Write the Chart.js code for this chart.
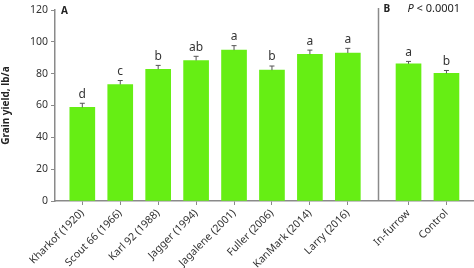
<!DOCTYPE html>
<html>
<head>
<meta charset="utf-8">
<script src="https://cdn.jsdelivr.net/npm/chart.js@4.4.0/dist/chart.umd.min.js"></script>
<style>
    html, body { margin: 0; padding: 0; background: #fff; }
    #wrap { position: relative; width: 474px; height: 268px; }
</style>
</head>
<body>
<div id="wrap"><canvas id="yieldChart" width="474" height="268"></canvas></div>
<script>
// Panel A: cultivars
const cultivars = ["Kharkof (1920)", "Scout 66 (1966)", "Karl 92 (1988)", "Jagger (1994)",
    "Jagalene (2001)", "Fuller (2006)", "KanMark (2014)", "Larry (2016)"];
const cultivarYield = [58.8, 73.2, 82.8, 88.3, 94.8, 82.2, 92.2, 93.0];
const cultivarErr = [2.6, 2.5, 2.4, 2.6, 2.8, 2.6, 2.6, 2.9];
const cultivarLetters = ["d", "c", "b", "ab", "a", "b", "a", "a"];

// Panel B: treatment
const treatments = ["In-furrow", "Control"];
const treatmentYield = [86.2, 80.2];
const treatmentErr = [1.5, 1.8];
const treatmentLetters = ["a", "b"];

const yTicks = [0, 20, 40, 60, 80, 100, 120];

const GREEN = "#66ee14";
const AXIS = "#8a8a8a";
const TEXT = "#333";
const FONT = "'Noto Sans', 'DejaVu Sans', sans-serif";

// layout of the two panels on one x scale (in category units)
const panelBStart = 8.6;
const dividerAt = 7.8;

const labelAt = {};
cultivars.forEach((c, i) => (labelAt[i] = c));
treatments.forEach((t, j) => (labelAt[panelBStart + j] = t));

const points = [
    ...cultivars.map((c, i) => ({ x: i, y: cultivarYield[i], err: cultivarErr[i], letter: cultivarLetters[i] })),
    ...treatments.map((t, j) => ({ x: panelBStart + j, y: treatmentYield[j], err: treatmentErr[j], letter: treatmentLetters[j] })),
];

// error bars, significance letters, panel tags and divider
const annotations = {
    id: "annotations",
    afterDatasetsDraw(chart) {
        const { ctx, scales, chartArea } = chart;
        const meta = chart.getDatasetMeta(0);
        ctx.save();
        meta.data.forEach((bar, i) => {
            const p = points[i];
            const top = scales.y.getPixelForValue(p.y + p.err);
            ctx.strokeStyle = "#555";
            ctx.lineWidth = 1;
            ctx.beginPath();
            ctx.moveTo(bar.x, bar.y);
            ctx.lineTo(bar.x, top);
            ctx.moveTo(bar.x - 2.5, top);
            ctx.lineTo(bar.x + 2.5, top);
            ctx.stroke();

            ctx.fillStyle = TEXT;
            ctx.font = "12px " + FONT;
            ctx.textAlign = "center";
            ctx.textBaseline = "bottom";
            ctx.fillText(p.letter, bar.x, top - 3);
        });

        // divider between panels
        const dx = Math.round(scales.x.getPixelForValue(dividerAt)) + 0.5;
        ctx.strokeStyle = AXIS;
        ctx.lineWidth = 1.5;
        ctx.beginPath();
        ctx.moveTo(dx, chartArea.top - 2);
        ctx.lineTo(dx, chartArea.bottom);
        ctx.stroke();

        ctx.fillStyle = "#222";
        ctx.textAlign = "left";
        ctx.textBaseline = "middle";
        ctx.font = "bold 10px " + FONT;
        ctx.fillText("A", chartArea.left + 6, chartArea.top + 1);
        ctx.fillText("B", dx + 5, chartArea.top - 1);

        ctx.font = "italic 11px " + FONT;
        ctx.fillText("P", dx + 29, chartArea.top - 1);
        const pw = ctx.measureText("P").width;
        ctx.font = "11px " + FONT;
        ctx.fillText(" < 0.0001", dx + 29 + pw, chartArea.top - 1);
        ctx.restore();
    },
};

new Chart(document.getElementById("yieldChart"), {
    type: "bar",
    data: {
        datasets: [
            {
                data: points,
                backgroundColor: GREEN,
                borderWidth: 0,
                barThickness: 25,
            },
        ],
    },
    options: {
        responsive: false,
        animation: false,
        layout: { padding: { top: 10, right: 1, left: 0, bottom: 0 } },
        plugins: {
            legend: { display: false },
            tooltip: { enabled: false },
        },
        scales: {
            x: {
                type: "linear",
                offset: false,
                min: -0.72,
                max: panelBStart + 1 + 0.7,
                afterBuildTicks: (s) => {
                    s.ticks = Object.keys(labelAt).map((v) => ({ value: +v }));
                },
                afterFit: (s) => {
                    s.height = 67;
                    s.paddingLeft = 0;
                    s.paddingRight = 0;
                },
                ticks: {
                    autoSkip: false,
                    minRotation: 45,
                    maxRotation: 45,
                    padding: 2,
                    color: TEXT,
                    font: { family: FONT, size: 10.5 },
                    callback: (v) => labelAt[v] || "",
                },
                grid: { offset: false, drawOnChartArea: false, drawTicks: true, tickLength: 4, color: AXIS, lineWidth: 1 },
                border: { color: AXIS, width: 1.5 },
            },
            y: {
                min: 0,
                max: 120,
                afterBuildTicks: (s) => {
                    s.ticks = yTicks.map((v) => ({ value: v }));
                },
                afterFit: (s) => { s.width = 55; },
                ticks: {
                    padding: 3,
                    color: TEXT,
                    font: { family: FONT, size: 10.5 },
                },
                title: {
                    display: true,
                    text: "Grain yield, lb/a",
                    color: "#222",
                    font: { family: FONT, size: 10, weight: "bold" },
                    padding: { top: 0, bottom: 0 },
                },
                grid: { drawOnChartArea: false, drawTicks: true, tickLength: 4, color: AXIS, lineWidth: 1 },
                border: { color: AXIS, width: 1.5 },
            },
        },
    },
    plugins: [annotations],
});
</script>
</body>
</html>
